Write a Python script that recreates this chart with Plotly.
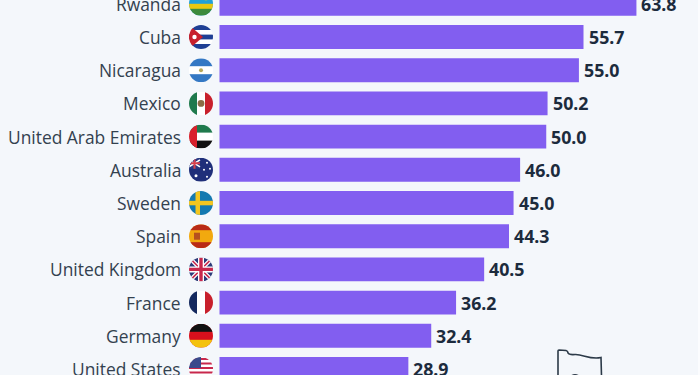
import base64
import plotly.graph_objects as go

countries = ["Rwanda", "Cuba", "Nicaragua", "Mexico", "United Arab Emirates", "Australia",
             "Sweden", "Spain", "United Kingdom", "France", "Germany", "United States"]
shares = [63.8, 55.7, 55.0, 50.2, 50.0, 46.0, 45.0, 44.3, 40.5, 36.2, 32.4, 28.9]
flag_art = {
    "Rwanda": '<rect width="24" height="24" fill="#20a0d8"/><rect y="12" width="24" height="6" fill="#e8c80f"/><rect y="17" width="24" height="7" fill="#3d8a3c"/><circle cx="17" cy="6" r="2.5" fill="#f5d90a"/>',
    "Cuba": '<rect width="24" height="24" fill="#fff"/><rect y="0" width="24" height="5" fill="#1f3f94"/><rect y="9.6" width="24" height="4.8" fill="#1f3f94"/><rect y="19" width="24" height="5" fill="#1f3f94"/><path d="M0 0L14 12L0 24Z" fill="#c8202c"/><circle cx="5.500" cy="12" r="2.2" fill="#fff"/>',
    "Nicaragua": '<rect width="24" height="24" fill="#fff"/><rect width="24" height="8" fill="#3478c4"/><rect y="16" width="24" height="8" fill="#3478c4"/><circle cx="12" cy="12" r="2" fill="#b7a85a"/>',
    "Mexico": '<rect width="24" height="24" fill="#fff"/><rect width="8" height="24" fill="#1f7a4d"/><rect x="16" width="8" height="24" fill="#c8202c"/><circle cx="12" cy="12" r="3.4" fill="#8a6b45"/>',
    "United Arab Emirates": '<rect width="24" height="24" fill="#fff"/><rect width="24" height="8" fill="#1f7a4d"/><rect y="16" width="24" height="8" fill="#111"/><rect width="8" height="24" fill="#d8202c"/>',
    "Australia": '<rect width="24" height="24" fill="#1f2f7a"/><rect width="11" height="11" fill="#2a3a84"/><path d="M0 2L11 9M11 2L0 9" stroke="#fff" stroke-width="1.6"/><path d="M5.5 0V11M0 5.5H11" stroke="#d8404c" stroke-width="2"/><circle cx="18" cy="5" r="1" fill="#fff"/><circle cx="21" cy="11" r="1" fill="#fff"/><circle cx="15" cy="12" r="1" fill="#fff"/><circle cx="18" cy="19" r="1" fill="#fff"/><circle cx="7" cy="18" r="1.5" fill="#fff"/>',
    "Sweden": '<rect width="24" height="24" fill="#1479b0"/><rect x="6.5" width="4.5" height="24" fill="#f4c61f"/><rect y="9.8" width="24" height="4.5" fill="#f4c61f"/>',
    "Spain": '<rect width="24" height="24" fill="#f2a90f"/><rect width="24" height="6" fill="#b92a16"/><rect y="18" width="24" height="6" fill="#b92a16"/><rect x="5" y="8.5" width="6" height="7" fill="#b5501e"/>',
    "United Kingdom": '<rect width="24" height="24" fill="#2b3a78"/><path d="M0 0L24 24M24 0L0 24" stroke="#fff" stroke-width="4"/><path d="M0 0L24 24M24 0L0 24" stroke="#c8284c" stroke-width="1.5"/><path d="M12 0V24M0 12H24" stroke="#fff" stroke-width="6"/><path d="M12 0V24M0 12H24" stroke="#c8284c" stroke-width="3.4"/>',
    "France": '<rect width="24" height="24" fill="#fff"/><rect width="8" height="24" fill="#14295e"/><rect x="16" width="8" height="24" fill="#c8202c"/>',
    "Germany": '<rect width="24" height="24" fill="#d8101c"/><rect width="24" height="8" fill="#111"/><rect y="16" width="24" height="8" fill="#f4c20d"/>',
    "United States": '<rect width="24" height="24" fill="#fff"/><path d="M0 2H24M0 6.5H24M0 11H24M0 15.500H24M0 20H24" stroke="#c8284c" stroke-width="2.2"/><rect width="12" height="11" fill="#3a4a8c"/>',
}

BG = "#f4f7fb"
BAR = "#825ef0"
INK = "#1c2b3d"
LABEL = "#33414f"
W, H = 700, 375
LEFT = 219.5
PX_PER_UNIT = 6.535
ROW0, ROW = 3.8, 33.2
FLAG_X, FLAG_D = 201, 24


def flag_uri(name):
    svg = ('<svg xmlns="http://www.w3.org/2000/svg" width="96" height="96" viewBox="0 0 24 24">'
           '<defs><clipPath id="c"><circle cx="12" cy="12" r="12"/></clipPath></defs>'
           f'<g clip-path="url(#c)">{flag_art[name]}</g></svg>')
    return "data:image/svg+xml;base64," + base64.b64encode(svg.encode()).decode()


def px(x):
    return x / W


def py(y):
    return 1 - y / H


images = [dict(source=flag_uri(c), xref="paper", yref="y", x=px(FLAG_X), y=i,
               sizex=px(FLAG_D), sizey=FLAG_D / ROW, xanchor="center", yanchor="middle",
               sizing="stretch", layer="above") for i, c in enumerate(countries)]
labels = [dict(text=c, xref="paper", yref="y", x=px(182.5), y=i, xanchor="right", yanchor="middle",
               showarrow=False, font=dict(family="Open Sans", size=17.4, color=LABEL))
          for i, c in enumerate(countries)]
values = [dict(text=f"<b>{v:.1f}</b>", xref="x", yref="y", x=v, y=i, xanchor="left", yanchor="middle",
               xshift=3, showarrow=False, font=dict(family="Noto Sans", size=17.8, color=INK))
          for i, v in enumerate(shares)]

icon = (f"M {px(558)} {py(376)} L {px(558)} {py(351)} Q {px(558)} {py(350)} {px(559)} {py(350)} "
        f"L {px(566)} {py(350.500)} Q {px(568)} {py(351)} {px(568)} {py(353)} "
        f"Q {px(569)} {py(355)} {px(575)} {py(354.500)} C {px(583)} {py(354)} {px(590)} {py(360)} {px(601)} {py(357.500)} "
        f"L {px(601.500)} {py(376)}")

fig = go.Figure(go.Bar(
    x=shares, y=list(range(len(countries))), orientation="h", width=0.72,
    marker=dict(color=BAR, line=dict(width=0)), hoverinfo="skip",
))
fig.update_layout(
    width=W, height=H, margin=dict(l=0, r=0, t=0, b=0, autoexpand=False),
    paper_bgcolor=BG, plot_bgcolor=BG, showlegend=False, images=images, annotations=labels + values,
    xaxis=dict(range=[-LEFT / PX_PER_UNIT, (W - LEFT) / PX_PER_UNIT], visible=False),
    yaxis=dict(range=[(H - ROW0) / ROW, -ROW0 / ROW], visible=False),
    shapes=[
        dict(type="path", xref="paper", yref="paper", layer="above", path=icon,
             line=dict(color="#2c3a48", width=1.6)),
        dict(type="path", xref="paper", yref="paper", layer="above",
             path=f"M {px(570)} {py(376)} Q {px(575)} {py(372)} {px(580)} {py(376)} Z",
             fillcolor="#2c3a48", line=dict(width=0)),
        dict(type="rect", xref="paper", yref="paper", layer="above", x0=px(698), x1=1, y0=0, y1=1,
             fillcolor="#fbfcfe", line=dict(width=0)),
    ],
)
fig.write_html("out.html", config=dict(displayModeBar=False),
               post_script="document.body.style.margin='0';document.body.style.overflow='hidden';")
